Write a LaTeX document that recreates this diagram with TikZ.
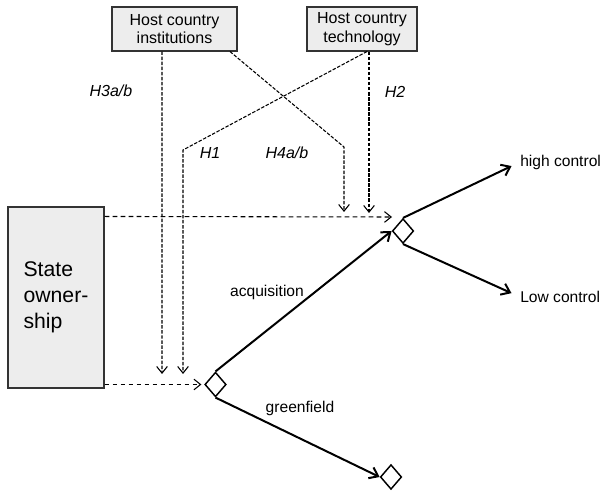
\documentclass[tikz,border=0pt]{standalone}
\usepackage{fontspec}
\setmainfont{Liberation Sans}
\usetikzlibrary{arrows.meta,shapes.geometric}
\begin{document}
\begin{tikzpicture}[x=0.75pt,y=-0.75pt,
 box/.style={draw=black!80, fill=black!7, line width=0.8pt, inner sep=0pt, align=center, font=\fontsize{12}{13.8}\selectfont},
 dia/.style={draw, shape=diamond, line width=1.1pt, inner sep=0pt, minimum width=16pt, minimum height=18.5pt},
 dline/.style={dash pattern=on 2.6pt off 1.2pt, line width=0.8pt, -{Straight Barb[length=5pt,width=8pt]}},
 hline/.style={dash pattern=on 3.6pt off 2.4pt, line width=0.8pt, -{Straight Barb[length=5pt,width=8pt]}},
 sline/.style={line width=1.5pt, -{Straight Barb[length=6pt,width=9pt]}},
 lbl/.style={inner sep=0pt, font=\fontsize{11.7}{13.5}\selectfont},
 hyp/.style={inner sep=0pt, font=\fontsize{12}{14}\selectfont\itshape}]
\useasboundingbox (0,0) rectangle (603,491);

% boxes
\node[box, minimum width=93.75pt, minimum height=33pt] (inst) at (174.5,29) {Host country\\institutions};
\node[box, minimum width=82.5pt, minimum height=33pt] (tech) at (362,29) {Host country\\technology};
\node[box, minimum width=72pt, minimum height=135.75pt, align=left, font=\fontsize{15.9}{19.5}\selectfont] (so) at (56,297.5) {State\\owner-\\ship};

% decision diamonds
\node[dia] (d1) at (215.5,384.5) {};
\node[dia] (d2) at (403,231) {};
\node[dia] (d3) at (391,477) {};

% end labels
\node[lbl, anchor=west] (hct) at (520,162) {high control};
\node[lbl, anchor=west] (lct) at (520,297) {Low control};

% helper coordinates
\coordinate (aA) at (162,374);
\coordinate (aB) at (183,374);
\coordinate (bB) at (183,150);
\coordinate (bH4) at (344,147);
\coordinate (aH4) at (344,212);
\coordinate (aH2) at (369,213);
\coordinate (aT) at (392,217);

% dashed influences
\draw[dline] ([xshift=-9.4pt]inst.south) -- (aA);
\draw[dline] ([xshift=41.6pt]inst.south) -- (bH4) -- (aH4);
\draw[dline] ([xshift=3.75pt]tech.south) -- (bB) -- (aB);
\draw[dline] ([xshift=5.25pt]tech.south) -- (aH2);
\draw[hline] ([yshift=-7.5pt]so.north east) -- (aT);
\draw[hline] (so.east |- d1.west) -- ([xshift=-2pt]d1.west);

% solid decision arrows
\draw[sline] (d1.north) -- (d2.west);
\draw[sline] (d1.south) -- (d3.west);
\draw[sline, shorten >=7pt] (d2.north) -- (hct.west);
\draw[sline, shorten >=7pt] (d2.south) -- (lct.west);

% labels
\node[lbl] (acq) at (267,292) {acquisition};
\node[lbl] (grf) at (300,408) {greenfield};
\node[hyp] (h3) at (111,91) {H3a/b};
\node[hyp] (h2) at (395,92) {H2};
\node[hyp] (h1) at (210,153) {H1};
\node[hyp] (h4) at (287,153) {H4a/b};
\end{tikzpicture}
\end{document}
